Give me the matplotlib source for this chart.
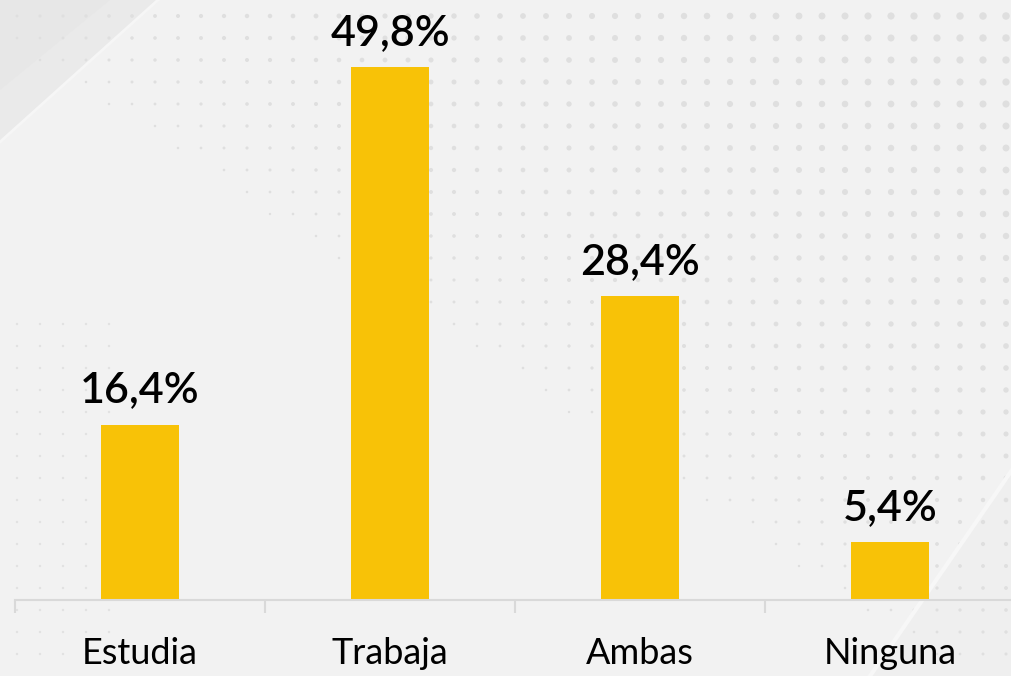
import matplotlib.pyplot as plt
import numpy as np
from matplotlib.patches import Polygon

plt.rcParams['font.family'] = ['Lato', 'DejaVu Sans']

categories = ['Estudia', 'Trabaja', 'Ambas', 'Ninguna']
values = [16.4, 49.8, 28.4, 5.4]
value_labels = ['16,4%', '49,8%', '28,4%', '5,4%']

bar_color = '#F8C207'
bg_color = '#F2F2F2'
axis_color = '#D9D9D9'

W, H = 1012, 676
fig = plt.figure(figsize=(W / 100, H / 100), dpi=100, facecolor=bg_color)

# background decoration (pixel coordinates)
bg = fig.add_axes([0, 0, 1, 1], zorder=0)
bg.set_xlim(0, W)
bg.set_ylim(H, 0)
bg.axis('off')
bg.add_patch(Polygon([[0, 0], [158, 0], [0, 142]], closed=True,
                     facecolor='#EAEAEA', edgecolor='none'))
bg.add_patch(Polygon([[0, 0], [110, 0], [0, 90]], closed=True,
                     facecolor='#E7E7E7', edgecolor='none'))
bg.plot([158, 0], [0, 142], color='#F6F6F6', lw=2)
bg.add_patch(Polygon([[W, 470], [W, H], [870, H]], closed=True,
                     facecolor='#EFEFEF', edgecolor='none'))
bg.plot([W, 870], [470, H], color='#F7F7F7', lw=3)

gx = np.arange(17, W, 23)
gy = np.arange(16, H, 22)
xx, yy = np.meshgrid(gx, gy)
xx = xx.ravel()
yy = yy.ravel()
d = xx / W - yy / H
upper = d > -0.05
size = np.clip(3 + 26 * (d + 0.05), 2, 32)
bg.scatter(xx[upper], yy[upper], s=size[upper], color='#DFDFDF',
           edgecolors='none')
lower = (xx < 120) & (yy > 320) & (yy < H)
bg.scatter(xx[lower], yy[lower], s=3, color='#E2E2E2', edgecolors='none')

# main chart
ax = fig.add_axes([15 / W, 76 / H, 1000 / W, 600 / H], zorder=1)
ax.set_facecolor('none')
x = np.arange(len(categories))
ax.bar(x, values, width=0.31, color=bar_color, zorder=2)
ax.set_xlim(-0.5, len(categories) - 0.5)
ax.set_ylim(0, 56.1)

for xi, v, lab in zip(x, values, value_labels):
    ax.annotate(lab, (xi, v), xytext=(0, 11), textcoords='offset points',
                ha='center', va='bottom', fontsize=31, color='#000000',
                fontweight='semibold')

for s in ['top', 'right', 'left']:
    ax.spines[s].set_visible(False)
ax.spines['bottom'].set_color(axis_color)
ax.spines['bottom'].set_linewidth(1.5)
ax.set_yticks([])
ax.set_xticks(x)
ax.set_xticklabels(categories, fontsize=26, color='#000000')
ax.tick_params(axis='x', which='major', length=0, pad=27)
ax.set_xticks(np.arange(-0.5, len(categories)), minor=True)
ax.tick_params(axis='x', which='minor', length=9.5, width=1.5,
               color=axis_color, direction='out')

fig.savefig('out.png', dpi=100, facecolor=bg_color)
